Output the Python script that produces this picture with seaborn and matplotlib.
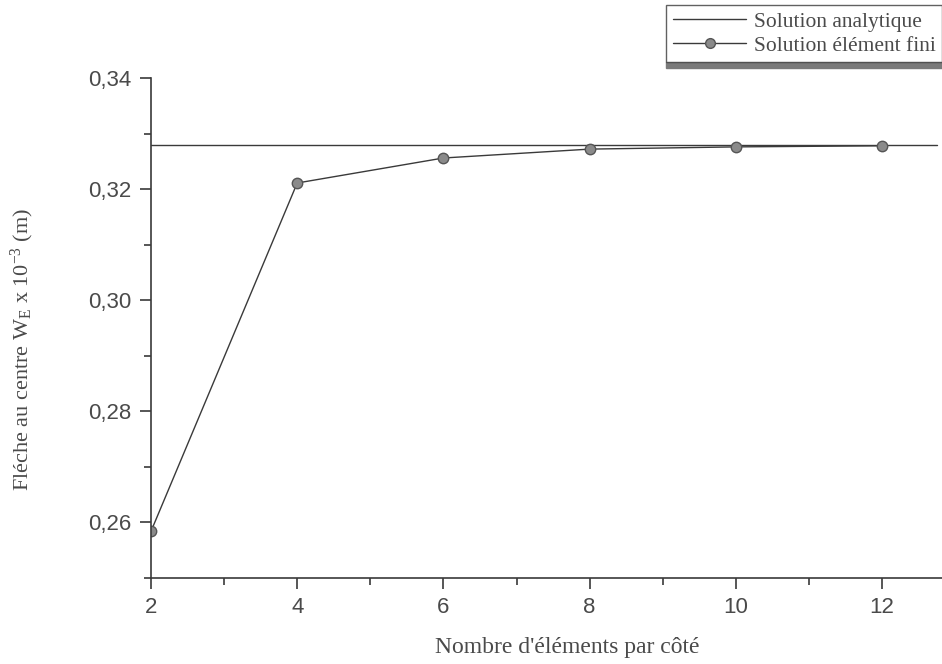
import matplotlib
matplotlib.use("Agg")
import matplotlib.pyplot as plt
from matplotlib.patches import Rectangle
from matplotlib.lines import Line2D
import seaborn as sns
import pandas as pd

# ---- data ----
n_elements = [2, 4, 6, 8, 10, 12]
fe_values = [0.2584, 0.3211, 0.3256, 0.3272, 0.3276, 0.3278]
analytic_x = [2, 12.75]
analytic_y = [0.328, 0.328]
xticks = [2, 4, 6, 8, 10, 12]
xtick_labels = ["2", "4", "6", "8", "10", "12"]
yticks = [0.26, 0.28, 0.30, 0.32, 0.34]
ytick_labels = ["0,26", "0,28", "0,30", "0,32", "0,34"]
xminor = [3, 5, 7, 9, 11]
yminor = [0.25, 0.27, 0.29, 0.31, 0.33]
label_analytic = "Solution analytique"
label_fe = "Solution élément fini"
xlabel = "Nombre d'éléments par côté"
ylabel = r"Fléche au centre W$_{\mathrm{E}}$ x 10$^{\mathrm{-3}}$ (m)"

sns.set_style("white")
plt.rcParams["mathtext.fontset"] = "custom"
plt.rcParams["mathtext.rm"] = "Liberation Serif"
plt.rcParams["mathtext.it"] = "Liberation Serif:italic"

TXT = "#4a4a4a"
LINE = "#3a3a3a"

fig = plt.figure(figsize=(9.42, 6.64), dpi=100)
W, H = 942, 664
ax = fig.add_axes([151 / W, (H - 578) / H, (W - 151) / W, 500 / H])

df_a = pd.DataFrame({"x": analytic_x, "y": analytic_y})
df_fe = pd.DataFrame({"x": n_elements, "y": fe_values})

sns.lineplot(data=df_a, x="x", y="y", ax=ax, color=LINE, linewidth=1.0)
sns.lineplot(data=df_fe, x="x", y="y", ax=ax, color=LINE, linewidth=1.0,
             marker="o", markersize=7.5, markerfacecolor="#8a8a8a",
             markeredgecolor="#555555", markeredgewidth=1.0)

ax.set_xlim(2, 12.82)
ax.set_ylim(0.25, 0.34)

for s in ["top", "right"]:
    ax.spines[s].set_visible(False)
for s in ["left", "bottom"]:
    ax.spines[s].set_color(LINE)
    ax.spines[s].set_linewidth(1.2)

ax.set_xticks(xticks)
ax.set_xticklabels(xtick_labels)
ax.set_yticks(yticks)
ax.set_yticklabels(ytick_labels)
ax.set_xticks(xminor, minor=True)
ax.set_yticks(yminor, minor=True)
ax.tick_params(axis="both", which="major", direction="out", length=8, width=1.2,
               color=LINE, labelsize=16, labelcolor=TXT, pad=6)
ax.tick_params(axis="both", which="minor", direction="out", length=5, width=1.2,
               color=LINE)
ax.tick_params(axis="both", which="both", bottom=True, left=True)
for lab in ax.get_xticklabels() + ax.get_yticklabels():
    lab.set_fontfamily("Liberation Sans")

ax.set_xlabel(xlabel, fontsize=17, fontfamily="Liberation Serif", color=TXT)
ax.set_ylabel(ylabel, fontsize=16, fontfamily="Liberation Serif", color=TXT)
ax.xaxis.label.set_va("center")
ax.xaxis.set_label_coords(0.526, -0.14)
ax.yaxis.label.set_va("center")
ax.yaxis.set_label_coords(-0.163, 0.458)

handles = [
    Line2D([], [], color=LINE, linewidth=1.0),
    Line2D([], [], color=LINE, linewidth=1.0, marker="o", markersize=7,
           markerfacecolor="#8a8a8a", markeredgecolor="#555555"),
]
leg = fig.legend(handles, [label_analytic, label_fe], loc="upper right",
                 bbox_to_anchor=(1.0, 1 - 5 / H), frameon=True, fancybox=False,
                 prop={"family": "Liberation Serif", "size": 15.5},
                 handlelength=3.4, handletextpad=0.35, borderpad=0.3,
                 labelspacing=0.2, borderaxespad=0)
leg.get_frame().set_edgecolor(LINE)
leg.get_frame().set_linewidth(1.0)
for t in leg.get_texts():
    t.set_color(TXT)

fig.canvas.draw()
bb = leg.get_window_extent().transformed(fig.transFigure.inverted())
fig.patches.append(Rectangle((bb.x0, bb.y0 - 6 / H), 1.05 - bb.x0, 6 / H,
                             transform=fig.transFigure, color="#7a7a7a",
                             zorder=0))

fig.savefig("out.png", dpi=100)
